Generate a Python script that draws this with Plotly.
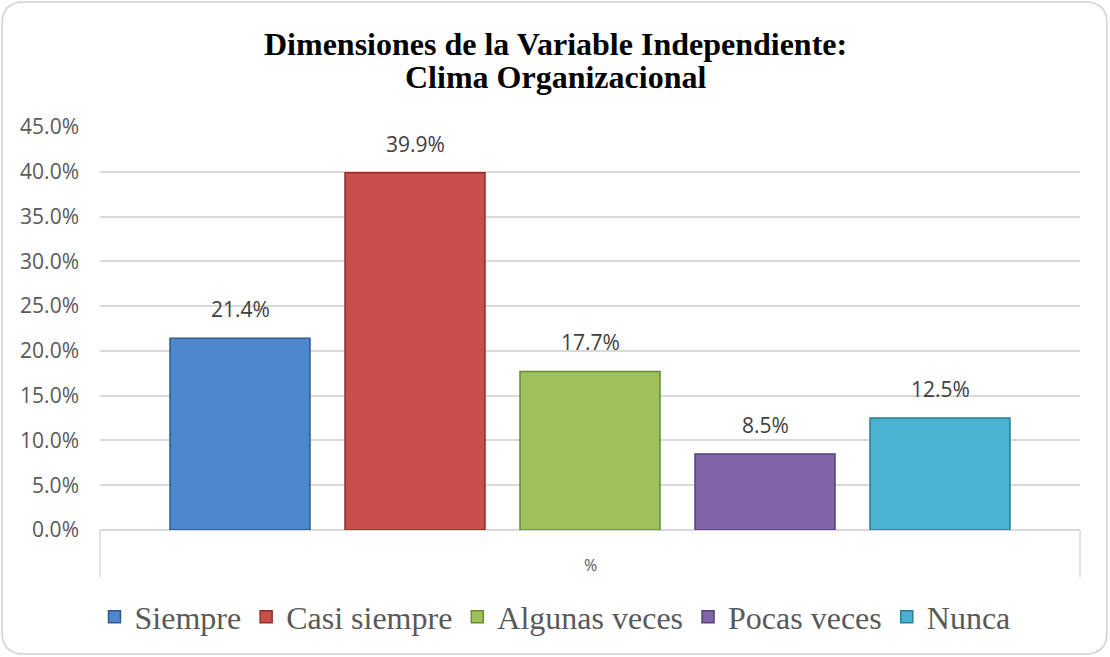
import plotly.graph_objects as go

categories = ["%"]
series_names = ["Siempre", "Casi siempre", "Algunas veces", "Pocas veces", "Nunca"]
series_values = [21.4, 39.9, 17.7, 8.5, 12.5]
fill_colors = ["#4f87cc", "#c94f4b", "#9fc15b", "#8265a9", "#48b2d0"]
edge_colors = ["#2f5b8f", "#8c2f2d", "#6a8a30", "#56427a", "#2a7f96"]
y_ticks = [0, 5, 10, 15, 20, 25, 30, 35, 40, 45]
title_lines = ["Dimensiones de la Variable Independiente:", "Clima Organizacional"]

W, H = 1110, 657
left, right, top, bottom = 100, 30, 127, 127
ph = H - top - bottom
pw = W - left - right
center_x = (W / 2 - left) / pw

fig = go.Figure()
for name, val, fc, ec in zip(series_names, series_values, fill_colors, edge_colors):
    fig.add_trace(go.Bar(
        x=[name], y=[val], name=name,
        marker=dict(color=fc, line=dict(color=ec, width=1.5)),
        hovertemplate=f"{name}: %{{y:.1f}}%<extra></extra>",
    ))

annotations = []
for name, val in zip(series_names, series_values):
    annotations.append(dict(
        x=name, y=val, xref="x", yref="y", text=f"{val:.1f}%", showarrow=False,
        yanchor="bottom", yshift=13,
        font=dict(family="Open Sans, Liberation Sans, sans-serif", size=21, color="#404040"),
    ))

# category label under the plot
annotations.append(dict(
    x=0.5, y=-(35 / ph), xref="paper", yref="paper", text=categories[0], showarrow=False,
    yanchor="middle", font=dict(family="Open Sans, Liberation Sans, sans-serif", size=16, color="#595959"),
))
# title lines
for line, ypix in zip(title_lines, [44, 77]):
    annotations.append(dict(
        x=center_x, xref="paper", y=(H - bottom - ypix) / ph, yref="paper", text=f"<b>{line}</b>",
        showarrow=False, yanchor="middle", xanchor="center",
        font=dict(family="Liberation Serif, Times New Roman, serif", size=32, color="black"),
    ))

# rounded outer border
r = 22
x0, y0, x1, y1 = 2, 2, W - 3, H - 3
def px(x): return (x - left) / pw
def py(y): return (H - bottom - y) / ph

path = (f"M {px(x0 + r)} {py(y0)} L {px(x1 - r)} {py(y0)} "
        f"Q {px(x1)} {py(y0)} {px(x1)} {py(y0 + r)} L {px(x1)} {py(y1 - r)} "
        f"Q {px(x1)} {py(y1)} {px(x1 - r)} {py(y1)} L {px(x0 + r)} {py(y1)} "
        f"Q {px(x0)} {py(y1)} {px(x0)} {py(y1 - r)} L {px(x0)} {py(y0 + r)} "
        f"Q {px(x0)} {py(y0)} {px(x0 + r)} {py(y0)} Z")

band = 47 / ph
shapes = [
    dict(type="path", xref="paper", yref="paper", path=path,
         line=dict(color="#d0d0d0", width=1.5), layer="below"),
    dict(type="line", xref="paper", yref="paper", x0=0, x1=0, y0=0, y1=-band,
         line=dict(color="#d9d9d9", width=1.5)),
    dict(type="line", xref="paper", yref="paper", x0=1, x1=1, y0=0, y1=-band,
         line=dict(color="#d9d9d9", width=1.5)),
]

pad = 0.3
fig.update_layout(
    width=W, height=H,
    margin=dict(l=left, r=right, t=top, b=bottom),
    paper_bgcolor="white", plot_bgcolor="white",
    barmode="overlay", bargap=0.2,
    showlegend=True,
    legend=dict(orientation="h", x=center_x, xanchor="center", y=-(87 / ph), yanchor="middle",
                font=dict(family="Liberation Serif, Times New Roman, serif", size=32, color="#595959"),
                itemwidth=30, traceorder="normal"),
    xaxis=dict(showgrid=False, showline=False, ticks="", zeroline=False, showticklabels=False,
               range=[-0.5 - pad, len(series_names) - 0.5 + pad]),
    yaxis=dict(range=[0, 45], tickvals=y_ticks, ticktext=[f"{v:.1f}%" for v in y_ticks],
               showgrid=True, gridcolor="#d9d9d9", gridwidth=1.5,
               zeroline=True, zerolinecolor="#d9d9d9", zerolinewidth=1.5,
               showline=False, ticks="", ticklabelstandoff=20,
               tickfont=dict(family="Open Sans, Liberation Sans, sans-serif", size=21, color="#595959")),
    shapes=shapes,
    annotations=annotations,
)

fig.write_html("out.html", config={"displayModeBar": False},
               post_script="document.body.style.margin='0';document.body.style.padding='0';")
